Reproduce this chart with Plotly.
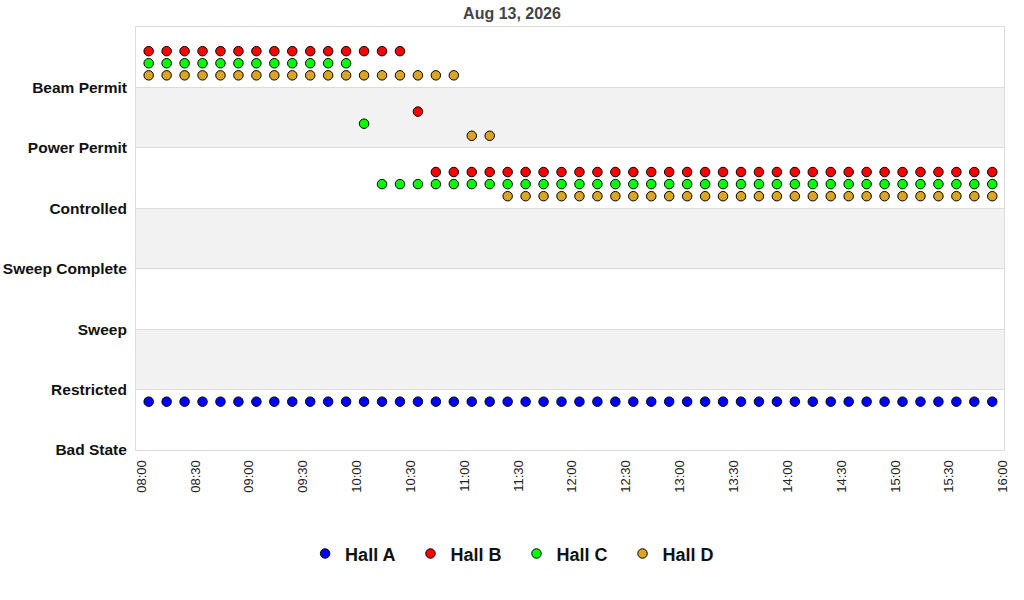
import plotly.graph_objects as go

# Hall status snapshots, Aug 13 2026
day = "2026-08-13"
times = [
    "08:04", "08:14", "08:24", "08:34", "08:44", "08:54",
    "09:04", "09:14", "09:24", "09:34", "09:44", "09:54",
    "10:04", "10:14", "10:24", "10:34", "10:44", "10:54",
    "11:04", "11:14", "11:24", "11:34", "11:44", "11:54",
    "12:04", "12:14", "12:24", "12:34", "12:44", "12:54",
    "13:04", "13:14", "13:24", "13:34", "13:44", "13:54",
    "14:04", "14:14", "14:24", "14:34", "14:44", "14:54",
    "15:04", "15:14", "15:24", "15:34", "15:44", "15:54",
]

states = ["Bad State", "Restricted", "Sweep", "Sweep Complete",
          "Controlled", "Power Permit", "Beam Permit"]

hall_a = ["Bad State"] * 48
hall_b = ["Beam Permit"] * 15 + ["Power Permit"] * 1 + ["Controlled"] * 32
hall_c = ["Beam Permit"] * 12 + ["Power Permit"] * 1 + ["Controlled"] * 35
hall_d = ["Beam Permit"] * 18 + ["Power Permit"] * 2 + ["Controlled"] * 28

halls = [
    ("Hall A", hall_a, "#0000ff", 0.8),
    ("Hall B", hall_b, "#ff0000", 0.6),
    ("Hall C", hall_c, "#00ff00", 0.4),
    ("Hall D", hall_d, "#daa520", 0.2),
]

x = [f"{day} {t}" for t in times]

fig = go.Figure()

for name, vals, color, off in halls:
    fig.add_trace(go.Scatter(
        x=x,
        y=[states.index(v) + off for v in vals],
        mode="markers",
        name=f"<b>{name}</b>\u00a0\u00a0",
        marker=dict(symbol="circle", size=9.5, color=color,
                    line=dict(color="black", width=1)),
    ))

# alternating gray bands
shapes = []
for lo in [1, 3, 5]:
    shapes.append(dict(type="rect", xref="paper", yref="y", x0=0, x1=1,
                       y0=lo, y1=lo + 1, fillcolor="#f2f2f2",
                       line=dict(width=0), layer="below"))

fig.update_layout(
    width=1024, height=600,
    margin=dict(l=136, r=20, t=27, b=150, autoexpand=False),
    paper_bgcolor="white",
    plot_bgcolor="white",
    shapes=shapes,
    title=dict(text="<b>Aug 13, 2026</b>", x=0.5, xanchor="center",
               yref="container", y=0.978, yanchor="middle",
               font=dict(family="Liberation Sans, Arial", size=16, color="#444444")),
    xaxis=dict(
        type="date",
        range=[f"{day} 07:56:56", f"{day} 16:00:32"],
        dtick=30 * 60 * 1000,
        tick0=f"{day} 08:00",
        tickformat="%H:%M",
        tickangle=-90,
        showgrid=False,
        zeroline=False,
        automargin=False,
        showline=True, mirror=True, linecolor="#dcdcdc", linewidth=1,
        ticks="", ticklabelstandoff=4,
        tickfont=dict(family="Liberation Sans, Arial", size=13, color="#222222"),
    ),
    yaxis=dict(
        range=[0, 7],
        tickvals=list(range(len(states))),
        ticktext=[f"<b>{s}</b>" for s in states],
        showgrid=True, gridcolor="#dcdcdc", gridwidth=1,
        zeroline=False,
        automargin=False,
        showline=True, mirror=True, linecolor="#dcdcdc", linewidth=1,
        ticks="", ticklabelstandoff=5,
        tickfont=dict(family="Liberation Sans, Arial", size=15.5, color="#111111"),
        fixedrange=True,
    ),
    legend=dict(
        orientation="h",
        xref="container", x=0.505, xanchor="center",
        yref="container", y=0.077, yanchor="middle",
        font=dict(family="Liberation Sans, Arial", size=18, color="#111111"),
        traceorder="normal",
        itemwidth=30,
    ),
    showlegend=True,
)

# drop the browser's default 8px body margin so the figure fills the window
fig.write_html("out.html", config={"displayModeBar": False},
               post_script="document.body.style.margin='0px';")
